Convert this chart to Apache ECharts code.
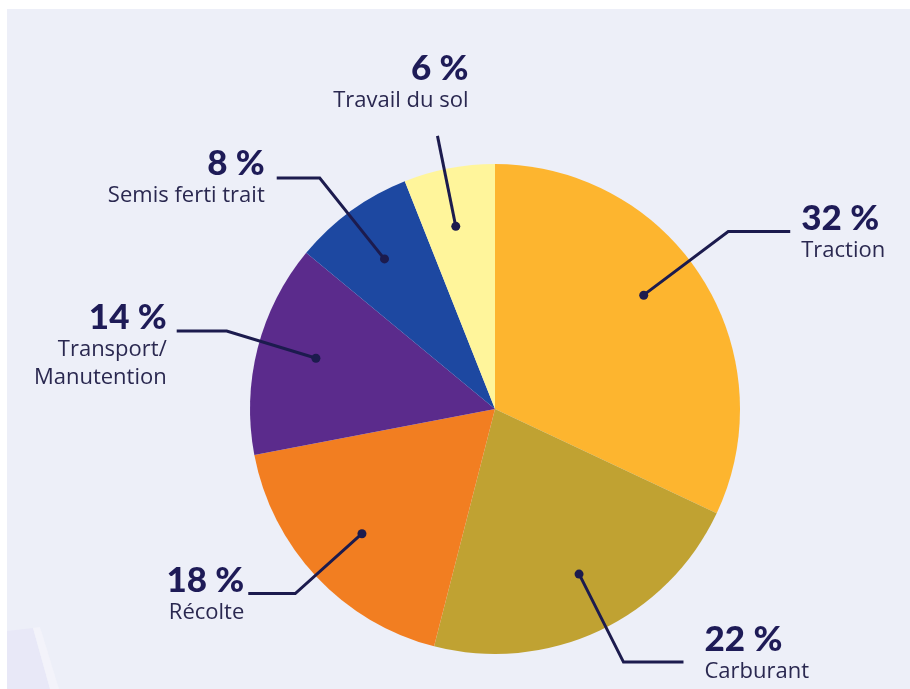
<!DOCTYPE html>
<html><head><meta charset="utf-8">
<script src="https://cdn.jsdelivr.net/npm/echarts@6/dist/echarts.min.js"></script>
<style>html,body{margin:0;padding:0;background:#fff;} #c{position:absolute;left:7px;top:9px;width:903px;height:680px;}</style>
</head><body><div id="c"></div>
<script>
const categories = ['Traction', 'Carburant', 'Récolte', 'Transport/\nManutention', 'Semis ferti trait', 'Travail du sol'];
const values = [32, 22, 18, 14, 8, 6];
const percentLabels = ['32 %', '22 %', '18 %', '14 %', '8 %', '6 %'];
const colors = ['#FDB52F', '#C0A232', '#F27E21', '#5B2B8C', '#1D48A1', '#FFF59B'];
// label line styling per slice
const lineLen = [109, 98, 89, 92, 103, 90];
const lineLen2 = [62, 60, 47, 50, 43, 0];
const labelGap = [11, 21, 4, 10, 12, 5];
const labelDy = [-31, -40, -31, -31, -32, -21];
const startShift = [[-10, -13], [4, -5], [4, -4], [3, -4], [0, 2], [-4, 2]];
const bendShift = [[-15, -20], [8, -3], [0, -3], [0, -9], [-6, 2], [-6, -3]];

const navy = '#1C1B4E';
const chart = echarts.init(document.getElementById('c'));
const center = [488, 400];
const R = 245, Rdot = 185;

const baseData = categories.map((c, i) => ({ name: c, value: values[i] }));

chart.setOption({
  backgroundColor: '#EDEFF8',
  animation: false,
  graphic: [
    { type: 'polygon', silent: true, shape: { points: [[0, 622], [26, 619], [43, 680], [0, 680]] }, style: { fill: '#E8E8F7' } },
    { type: 'polygon', silent: true, shape: { points: [[26, 619], [33, 618], [52, 680], [43, 680]] }, style: { fill: '#F3F3FA' } }
  ],
  series: [
    {
      type: 'pie', silent: true, center: center, radius: R, startAngle: 90, clockwise: true,
      label: { show: false }, labelLine: { show: false },
      data: baseData.map((d, i) => ({ ...d, itemStyle: { color: colors[i] } }))
    },
    {
      type: 'pie', silent: true, center: center, radius: Rdot, startAngle: 90, clockwise: true,
      avoidLabelOverlap: false, z: 3,
      itemStyle: { color: 'rgba(0,0,0,0)' },
      label: {
        show: true, position: 'outside',
        formatter: p => '{p|' + percentLabels[p.dataIndex] + '}\n' + p.name.split('\n').map(s => '{n|' + s + '}').join('\n'),
        rich: {
          p: { fontFamily: 'Lato', fontWeight: 900, fontSize: 35, lineHeight: 36, color: '#1E1B57' },
          n: { fontFamily: 'Open Sans', fontWeight: 500, fontSize: 22, lineHeight: 28, color: '#2A2850' }
        }
      },
      labelLine: { show: true, showAbove: true, lineStyle: { color: navy, width: 3 } },
      labelLayout: function (p) {
        const i = p.dataIndex;
        const pts = p.labelLinePoints;
        const s = startShift[i], b = bendShift[i];
        const line = [
          [pts[0][0] + s[0], pts[0][1] + s[1]],
          [pts[1][0] + b[0], pts[1][1] + b[1]],
          [pts[2][0] + b[0], pts[2][1] + b[1]]
        ];
        if (i === 5) return { verticalAlign: 'bottom', dx: 36 + b[0], dy: labelDy[i] + b[1], labelLinePoints: line };
        return { verticalAlign: 'top', dx: b[0], dy: labelDy[i] + b[1], labelLinePoints: line };
      },
      data: baseData.map((d, i) => ({
        ...d,
        label: { distanceToLabelLine: labelGap[i] },
        labelLine: { length: lineLen[i], length2: lineLen2[i] }
      }))
    },
    {
      type: 'pie', silent: true, center: center, radius: [Rdot - 5, Rdot + 5], startAngle: 90, clockwise: true,
      z: 4,
      itemStyle: { color: 'rgba(0,0,0,0)' },
      label: {
        show: true, position: 'inside', formatter: '{d|}',
        rich: { d: { width: 9, height: 9, borderRadius: 4.5, backgroundColor: navy } }
      },
      labelLayout: function (p) {
        const s = startShift[p.dataIndex];
        return { dx: s[0], dy: s[1] };
      },
      labelLine: { show: false },
      data: baseData
    }
  ]
});
</script></body></html>
